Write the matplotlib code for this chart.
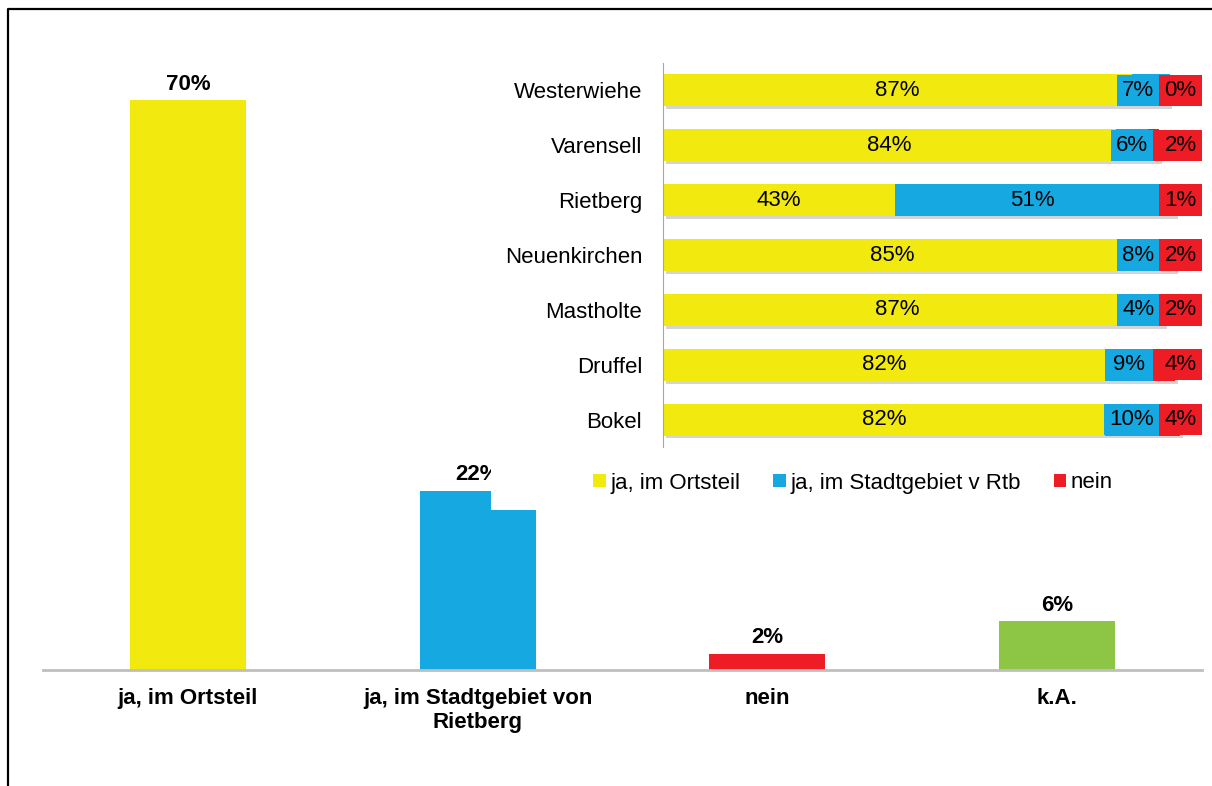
import matplotlib
matplotlib.use('Agg')
import matplotlib.pyplot as plt
import matplotlib.patheffects as pe
from matplotlib.patches import Rectangle
from matplotlib.lines import Line2D

plt.rcParams['font.family'] = ['Liberation Sans', 'DejaVu Sans']

# main chart data
answers = ['ja, im Ortsteil', 'ja, im Stadtgebiet von\nRietberg', 'nein', 'k.A.']
answer_pct = [70, 22, 2, 6]
answer_colors = ['#F2E90F', '#16A9E1', '#EE1C25', '#8DC544']

# inset data (per district)
districts = ['Westerwiehe', 'Varensell', 'Rietberg', 'Neuenkirchen',
             'Mastholte', 'Druffel', 'Bokel']
ja_ortsteil = [87, 84, 43, 85, 87, 82, 82]
ja_stadt = [7, 6, 51, 8, 4, 9, 10]
nein = [0, 2, 1, 2, 2, 4, 4]
series_names = ['ja, im Ortsteil', 'ja, im Stadtgebiet v Rtb', 'nein']
series_colors = ['#F2E90F', '#16A9E1', '#EE1C25']

W, H = 1212, 786
fig = plt.figure(figsize=(W / 100, H / 100), dpi=100)

# --- main bar chart ---
ax = fig.add_axes([43 / W, 1 - 670 / H, 1159 / W, 651 / H], zorder=0)
xs = range(len(answers))
bars = ax.bar(xs, answer_pct, width=0.4, color=answer_colors)
for b, v in zip(bars, answer_pct):
    ax.annotate(f'{v}%', (b.get_x() + b.get_width() / 2, v), xytext=(0, 4),
                textcoords='offset points', ha='center', va='bottom',
                fontsize=16, fontweight='bold')
ax.set_xlim(-0.5, len(answers) - 0.5)
ax.set_ylim(0, 80)
ax.set_xticks(list(xs))
ax.set_xticklabels(answers, fontsize=16, fontweight='bold')
ax.tick_params(axis='x', length=0, pad=13)
ax.set_yticks([])
for s in ['top', 'right', 'left']:
    ax.spines[s].set_visible(False)
ax.spines['bottom'].set_color('#BFBFBF')
ax.spines['bottom'].set_linewidth(2)

# white chart area of the inset covers part of the main chart
fig.add_artist(Rectangle((491 / W, 1 - 510 / H), 1 - 491 / W, 480 / H,
                         transform=fig.transFigure, fc='white', ec='none',
                         zorder=1))

# --- inset stacked bars ---
ax2 = fig.add_axes([663 / W, 1 - 447 / H, 539 / W, 384 / H], zorder=2)
ax2.patch.set_alpha(0)
ys = list(range(len(districts)))
shadow = [pe.SimplePatchShadow(offset=(2, -2), shadow_rgbFace='#a0a0a0', alpha=0.45),
          pe.Normal()]
left = [0] * len(districts)
label_sets = []
for vals, col, name in zip([ja_ortsteil, ja_stadt, nein], series_colors, series_names):
    c = ax2.barh(ys, vals, left=left, height=0.585, color=col, label=name)
    for p in c:
        p.set_path_effects(shadow)
    label_sets.append([(l + v / 2, v) for l, v in zip(left, vals)])
    left = [l + v for l, v in zip(left, vals)]

box = lambda c: dict(boxstyle='square,pad=0.235', fc=c, ec='none')
blue_texts, red_texts = [], []
for i in ys:
    cx, v = label_sets[0][i]
    ax2.text(cx, i, f'{v}%', ha='center', va='center', fontsize=16, zorder=5)
    cx, v = label_sets[1][i]
    blue_texts.append(ax2.text(cx, i, f'{v}%', ha='center', va='center',
                               fontsize=16, bbox=box(series_colors[1]), zorder=5))
    cx, v = label_sets[2][i]
    red_texts.append(ax2.annotate(f'{v}%', (100, i), xytext=(-3.8, 0),
                                  textcoords='offset points', ha='right',
                                  va='center', fontsize=16,
                                  bbox=box(series_colors[2]), zorder=6))

ax2.set_xlim(0, 100)
ax2.set_ylim(len(districts) - 0.5, -0.5)
ax2.set_xticks([])
ax2.set_yticks(ys)
ax2.set_yticklabels(districts, fontsize=16)
ax2.tick_params(axis='y', length=0, pad=15)
for s in ['top', 'right', 'bottom']:
    ax2.spines[s].set_visible(False)
ax2.spines['left'].set_color('#A6A6A6')

handles = [Rectangle((0, 0), 1, 1, fc=c, ec='none') for c in series_colors]
fig.legend(handles=handles, labels=series_names, loc='center',
           bbox_to_anchor=(853 / W, 1 - 483 / H), ncol=3, frameon=False,
           fontsize=16, handlelength=0.55, handleheight=0.55,
           handletextpad=0.2, columnspacing=1.5)

# push blue labels left so they don't run under the red ones
fig.canvas.draw()
r = fig.canvas.get_renderer()
for bt, rt in zip(blue_texts, red_texts):
    bb_b = bt.get_bbox_patch().get_window_extent(r)
    bb_r = rt.get_bbox_patch().get_window_extent(r)
    if bb_b.x1 > bb_r.x0:
        x, y = bt.get_position()
        dx, dy = ax2.transData.transform((x, y))
        nx = ax2.transData.inverted().transform((dx - (bb_b.x1 - bb_r.x0), dy))[0]
        bt.set_x(nx)

# outer frame (left and top edges)
fig.add_artist(Line2D([8 / W, 8 / W, 1], [0, 1 - 9 / H, 1 - 9 / H],
                      transform=fig.transFigure, color='black', lw=1.6,
                      zorder=10))

fig.savefig('out.png', dpi=100)
